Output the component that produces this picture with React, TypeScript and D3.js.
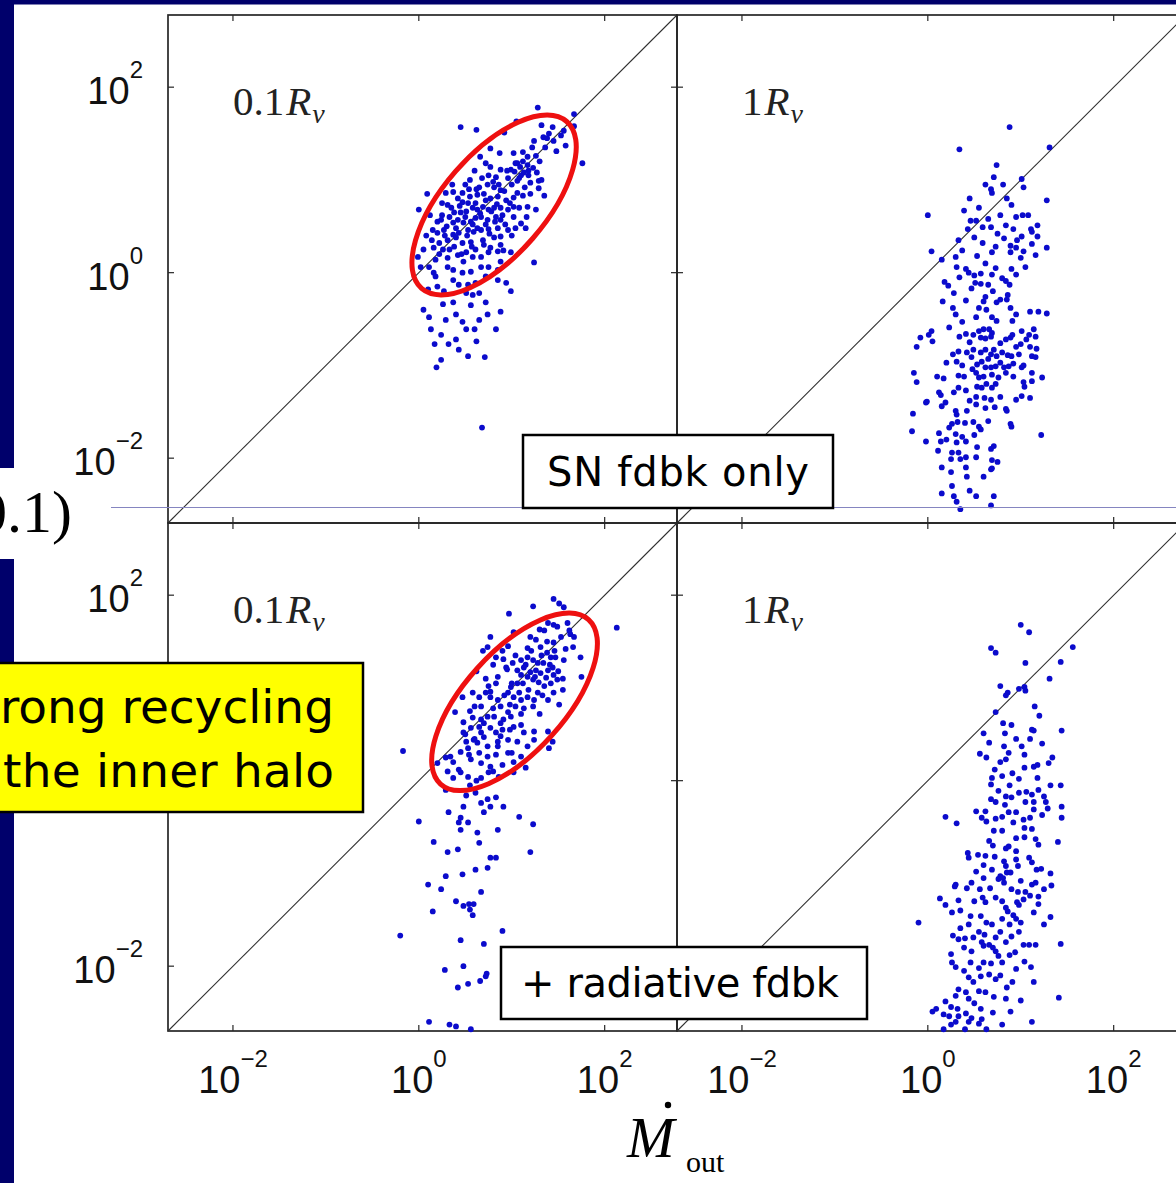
import React from "react";
import * as d3 from "d3";

// ---------- data (log10 values: [x, y, x, y, ...]) ----------
const DOMAIN: [number, number] = [0.002, 600];
const tickExponents = [-2, 0, 2];
const radiusLabels = ["0.1", "1"];
const feedbackLabels = ["SN fdbk only", "+ radiative fdbk"];
const calloutLines = ["rong recycling", "the inner halo"];
const sideLabel = "0.1)";

// top-left: SN feedback only, 0.1 Rv
const innerSN = [
  1.28,1.78, 1.67,1.71, 1.05,1.63, 0.45,1.57, 0.62,1.54, 1.32,1.59, 1.44,1.57, 1.56,1.53, 1.53,1.48, 1.67,1.58,
  1.34,1.46, 1.38,1.45, 1.24,1.42, 1.58,1.37, 1.48,1.31, 1.76,1.18, 0.92,1.51, 0.77,1.34, 0.87,1.29, 1.02,1.29,
  1.12,1.30, 1.17,1.25, 1.26,1.26, 1.06,1.18, 1.09,1.14, 1.17,1.16, 1.23,1.13, 0.99,1.11, 1.03,1.09, 1.10,1.05,
  1.13,1.08, 1.18,1.05, 0.66,1.25, 0.77,1.14, 0.88,1.11, 0.75,1.05, 0.83,1.03, 0.96,1.02, 1.06,0.99, 1.20,0.97,
  1.29,0.99, 1.29,0.91, 1.35,0.83, 0.74,0.95, 0.81,0.92, 0.88,0.89, 0.65,0.92, 0.63,0.84, 0.54,0.90, 0.47,0.86,
  0.37,0.87, 0.29,0.86, 0.09,0.85, 0.00,0.68, 0.47,0.76, 0.53,0.75, 0.61,0.75, 0.72,0.78, 0.77,0.80, 0.85,0.82,
  0.94,0.78, 1.02,0.81, 1.12,0.83, 1.02,0.71, 0.96,0.68, 0.88,0.70, 0.81,0.70, 0.75,0.68, 0.69,0.71, 0.63,0.68,
  0.58,0.70, 0.51,0.66, 0.45,0.65, 0.38,0.65, 0.31,0.73, 0.33,0.60, 0.24,0.57, 0.15,0.46, 0.20,0.43, 0.27,0.46,
  0.37,0.54, 0.42,0.57, 0.48,0.54, 0.56,0.55, 0.61,0.59, 0.67,0.60, 0.74,0.57, 0.83,0.60, 0.88,0.57, 1.02,0.60,
  1.17,0.71, 1.26,0.68, 1.16,0.60, 1.10,0.53, 1.04,0.48, 1.15,0.48, 0.96,0.46, 0.85,0.48, 0.75,0.47, 0.67,0.46,
  0.59,0.44, 0.53,0.46, 0.43,0.43, 0.37,0.41, 0.31,0.35, 0.22,0.32, 0.16,0.27, 0.26,0.25, 0.38,0.28, 0.47,0.32,
  0.56,0.33, 0.69,0.35, 0.81,0.38, 0.88,0.39, 0.77,0.27, 0.61,0.25, 0.51,0.22, 0.42,0.19, 0.31,0.16, 0.18,0.14,
  0.11,0.06, -0.01,0.17, 0.02,0.06, 0.16,0.00, 0.18,-0.04, 0.31,0.06, 0.37,0.03, 0.48,0.12, 0.58,0.17, 0.67,0.17,
  0.75,0.22, 0.85,0.23, 0.91,0.24, 0.99,0.22, 0.88,0.12, 0.75,0.06, 0.67,0.06, 0.56,0.01, 0.47,0.00, 0.37,-0.08,
  0.43,-0.13, 0.53,-0.13, 0.61,-0.11, 0.72,-0.04, 0.85,-0.08, 0.10,-0.18, 0.20,-0.15, 0.27,-0.20, 0.51,-0.22, 0.58,-0.24,
  0.65,-0.22, 1.24,0.11, 0.85,0.03, 0.11,-0.48, 0.29,-0.51, 0.40,-0.45, 0.51,-0.61, 0.65,-0.51, 0.74,-0.45, 0.24,-0.67,
  0.40,-0.72, 0.17,-0.77, 0.24,-0.94, 0.19,-1.02, 0.43,-0.83, 0.53,-0.90, 0.71,-0.91, 0.62,-0.74, 0.83,-0.61, 0.88,-0.42,
  0.37,-0.32, 0.56,-0.35, 0.72,-0.32, 0.26,-0.34, 0.13,-0.61, 0.05,-0.40, 0.99,-0.20, 0.94,-0.11, 0.68,-1.67, 0.32,-0.77,
  0.47,-0.53, 0.60,-0.61,
  0.20,0.55, 0.25,0.62, 0.30,0.50, 0.35,0.70, 0.40,0.48, 0.44,0.72, 0.50,0.60, 0.55,0.82, 0.58,0.52, 0.62,0.90,
  0.66,0.64, 0.70,0.85, 0.72,0.52, 0.78,0.66, 0.80,0.98, 0.84,0.74, 0.86,0.95, 0.90,0.62, 0.92,0.88, 0.95,1.10,
  0.98,0.75, 1.00,0.95, 1.04,1.18, 1.06,0.86, 1.08,1.02, 1.12,1.20, 1.14,0.92, 1.18,1.10, 1.22,1.35, 1.27,1.08,
  1.30,1.20, 1.36,1.35, 1.40,1.50, 1.45,1.42, 0.14,0.35, 0.22,0.20, 0.28,0.40, 0.33,0.25, 0.40,0.38, 0.46,0.20,
  0.52,0.40, 0.57,0.28, 0.63,0.48, 0.70,0.30, 0.76,0.42, 0.82,0.55, 0.88,0.30, 0.93,0.52, 0.55,1.00, 0.60,1.10,
  0.68,1.02, 0.72,1.18, 0.50,0.95, 0.42,0.80, 0.36,0.95, 0.25,0.75, 0.12,0.62, 0.08,0.40, 0.05,0.25, 1.00,0.40,
  1.08,0.70, 1.20,0.85, 1.32,1.00,
];

// top-right: SN feedback only, 1 Rv
const virialSN = [
  0.88,1.57, 0.34,1.33, 1.31,1.35, 0.74,1.16, 0.71,1.03, 0.81,0.95, 1.01,1.01, 1.03,0.92, 0.68,0.90, 0.69,0.86,
  0.85,0.80, 0.90,0.73, 1.28,0.78, 0.00,0.62, 0.39,0.67, 0.46,0.56, 0.52,0.56, 0.65,0.58, 0.59,0.49, 0.68,0.49,
  0.43,0.47, 0.84,0.51, 0.92,0.47, 1.02,0.62, 1.11,0.47, 1.12,0.44, 1.18,0.51, 1.18,0.39, 1.01,0.39, 0.96,0.35,
  0.82,0.37, 0.59,0.32, 0.33,0.35, 0.04,0.23, 0.15,0.14, 0.37,0.24, 0.53,0.18, 0.69,0.22, 0.73,0.28, 0.89,0.29,
  0.95,0.27, 0.89,0.22, 1.00,0.16, 1.03,0.23, 1.12,0.31, 1.16,0.19, 1.28,0.27, 0.30,0.17, 0.31,0.06, 0.41,0.04,
  0.44,0.00, 0.57,-0.01, 0.69,-0.02, 0.73,0.05, 0.90,0.04, 0.80,-0.06, 0.84,-0.09, 0.18,-0.10, 0.22,-0.14, 0.28,-0.22,
  0.34,-0.05, 0.51,-0.11, 0.57,-0.12, 0.65,-0.13, 0.88,-0.13, 0.86,-0.24, 0.62,-0.26, 0.16,-0.31, 0.27,-0.38, 0.41,-0.30,
  0.47,-0.17, 0.60,-0.31, 0.63,-0.40, 0.74,-0.32, 0.78,-0.29, 0.85,-0.29, 0.89,-0.38, 1.10,-0.42, 1.19,-0.42, 1.28,-0.44,
  0.30,-0.45, 0.37,-0.53, 0.52,-0.48, 0.69,-0.48, 0.74,-0.52, 0.91,-0.52, 0.23,-0.59, 0.04,-0.63, -0.08,-0.70, 0.01,-0.67,
  0.05,-0.74, -0.12,-0.80, 0.34,-0.69, 0.41,-0.66, 0.49,-0.67, 0.55,-0.63, 0.60,-0.61, 0.66,-0.61, 0.69,-0.65, 0.57,-0.70,
  0.62,-0.71, 0.68,-0.69, 0.84,-0.72, 0.89,-0.70, 0.91,-0.67, 1.01,-0.63, 1.09,-0.67, 1.14,-0.61, 1.16,-0.69, 1.06,-0.72,
  1.10,-0.80, 1.17,-0.82, 1.00,-0.77, 0.27,-0.88, 0.33,-0.85, 0.42,-0.86, 0.49,-0.83, 0.57,-0.86, 0.62,-0.83, 0.68,-0.88,
  0.71,-0.83, 0.74,-0.90, 0.80,-0.86, 0.86,-0.89, 0.90,-0.90, 0.98,-0.88, 1.12,-0.90, 1.16,-0.91, 0.20,-0.97, 0.31,-0.96,
  0.37,-1.00, 0.47,-0.91, 0.53,-0.99, 0.58,-0.96, 0.62,-1.02, 0.68,-1.02, 0.73,-1.01, 0.78,-0.97, 0.82,-1.02, 0.87,-1.01,
  0.92,-0.98, 1.01,-1.02, 1.03,-1.00, -0.15,-1.08, -0.12,-1.18, 0.10,-1.12, 0.17,-1.14, 0.33,-1.11, 0.39,-1.12, 0.52,-1.08,
  0.55,-1.13, 0.60,-1.12, 0.69,-1.10, 0.76,-1.13, 0.84,-1.08, 1.12,-1.08, 1.12,-1.17, 1.23,-1.13, 0.12,-1.29, 0.14,-1.32,
  0.28,-1.29, 0.33,-1.24, 0.41,-1.27, 0.53,-1.23, 0.58,-1.24, 0.63,-1.20, 0.69,-1.24, 0.73,-1.20, 1.04,-1.23, 1.03,-1.18,
  -0.02,-1.40, -0.01,-1.39, 0.15,-1.44, 0.19,-1.40, 0.52,-1.34, 0.52,-1.42, 0.61,-1.35, 0.68,-1.37, 0.78,-1.34, 0.95,-1.37,
  1.01,-1.33, 1.10,-1.35, -0.16,-1.52, 0.30,-1.49, 0.31,-1.53, 0.42,-1.49, 0.62,-1.46, 0.84,-1.47, 0.85,-1.49, -0.17,-1.71,
  0.23,-1.67, 0.26,-1.63, 0.32,-1.61, 0.49,-1.61, 0.55,-1.66, 0.57,-1.69, 0.89,-1.63, 0.90,-1.66, 1.22,-1.75, -0.02,-1.82,
  0.12,-1.73, 0.14,-1.82, 0.30,-1.74, 0.31,-1.83, 0.37,-1.77, 0.41,-1.82, 0.53,-1.88, 0.68,-1.90, 0.71,-1.87, 0.11,-1.92,
  0.25,-2.01, 0.26,-1.94, 0.33,-1.94, 0.35,-2.01, 0.41,-1.99, 0.52,-1.99, 0.69,-2.02, 0.75,-2.04, 0.15,-2.10, 0.25,-2.15,
  0.41,-2.10, 0.42,-2.20, 0.68,-2.12, 0.69,-2.11, 0.26,-2.30, 0.15,-2.38, 0.28,-2.41, 0.31,-2.47, 0.52,-2.41, 0.71,-2.41,
  0.68,-2.51,
  0.45,0.80, 0.55,0.70, 0.62,0.95, 0.78,0.62, 0.95,0.60, 1.08,0.62, 0.50,0.38, 0.75,0.42, 0.62,0.10, 0.50,-0.03,
  0.95,-0.02, 1.05,0.06, 0.70,-0.20, 0.55,-0.38, 0.95,-0.45, 0.45,-0.75, 0.78,-0.76, 0.95,-0.80, 0.65,-0.93, 0.48,-1.04,
  0.92,-1.12, 0.45,-1.38, 0.72,-1.45, 0.40,-1.62, 0.65,-1.60, 0.20,-1.80, 0.50,-1.75, 0.60,-2.20, 0.45,-2.35, 0.35,-2.55,
];

// bottom-left: + radiative feedback, 0.1 Rv
const innerRad = [
  1.45,1.96, 1.51,1.91, 1.56,1.87, 1.23,1.88, 0.97,1.80, 2.13,1.65, 1.39,1.70, 1.45,1.68, 1.49,1.66, 1.60,1.70,
  1.30,1.63, 1.26,1.52, 1.45,1.49, 1.63,1.58, 1.67,1.55, 1.66,1.44, 1.74,1.33, 1.75,1.12, 0.77,1.55, 0.69,1.40,
  0.74,1.44, 0.83,1.33, 0.96,1.45, 1.17,1.43, 1.31,1.44, 1.38,1.38, 1.42,1.33, 1.47,1.33, 1.56,1.30, 1.17,1.33,
  1.10,1.30, 1.23,1.30, 1.28,1.27, 1.34,1.27, 0.91,1.31, 1.01,1.27, 0.94,1.22, 1.06,1.19, 1.13,1.22, 1.20,1.17,
  1.26,1.19, 1.31,1.16, 1.39,1.19, 1.44,1.22, 1.45,1.14, 1.17,1.12, 1.10,1.14, 1.23,1.09, 1.29,1.06, 1.37,1.11,
  1.42,1.05, 1.49,1.09, 1.55,0.98, 1.06,1.05, 0.99,1.01, 0.83,1.05, 0.77,0.96, 0.72,0.95, 0.67,0.80, 0.77,0.90,
  0.85,0.87, 0.96,0.95, 1.02,0.90, 1.10,0.87, 1.17,0.90, 1.24,0.87, 1.33,0.92, 1.39,0.87, 1.51,0.82, 1.23,0.80,
  1.13,0.78, 1.04,0.80, 0.96,0.74, 0.88,0.80, 0.99,0.69, 0.91,0.66, 0.81,0.69, 0.74,0.69, 0.67,0.66, 0.58,0.68,
  0.48,0.63, 0.56,0.57, 0.65,0.58, 0.67,0.52, 0.77,0.57, 0.83,0.52, 0.90,0.55, 1.02,0.58, 1.10,0.60, 1.13,0.52,
  1.24,0.53, 1.24,0.44, 1.39,0.53, 1.44,0.42, 1.06,0.42, 1.17,0.37, 0.96,0.44, 0.85,0.42, 0.85,0.37, 0.74,0.37,
  0.63,0.41, 0.59,0.44, 0.51,0.42, 0.48,0.52, 0.39,0.74, 0.47,0.90, 0.53,0.35, 0.54,0.28, 0.65,0.30, 0.74,0.26,
  0.83,0.28, 0.96,0.30, 1.10,0.26, 1.02,0.20, 0.90,0.17, 0.77,0.15, 0.67,0.19, 0.56,0.23, 0.45,0.31, 0.34,0.26,
  0.37,0.20, 0.29,0.25, 0.43,0.12, 0.45,0.09, 0.37,0.03, 0.53,0.04, 0.67,0.03, 0.75,0.09, 0.86,0.04, 1.02,0.09,
  1.15,0.14, 1.40,0.35, -0.17,0.32, 0.31,0.10, 0.20,0.19, 0.29,-0.10, 0.51,-0.16, 0.61,-0.13, 0.67,-0.24, 0.74,-0.20,
  0.83,-0.18, 0.91,-0.28, 0.77,-0.28, 0.70,-0.34, 0.48,-0.28, 0.32,-0.34, 0.45,-0.40, 0.43,-0.45, 0.00,-0.44, 0.53,-0.45,
  0.85,-0.53, 1.08,-0.39, 1.23,-0.47, 0.63,-0.56, 0.45,-0.53, 0.16,-0.66, 0.65,-0.67, 0.42,-0.74, 1.20,-0.77, 0.31,-0.77,
  0.77,-0.83, 0.83,-0.83, 0.29,-1.03, 0.47,-1.01, 0.61,-0.96, 0.74,-0.94, 0.67,-1.20, 0.24,-1.17, 0.10,-1.12, 0.40,-1.30,
  0.48,-1.35, 0.54,-1.33, 0.59,-1.33, 0.55,-1.39, 0.58,-1.45, 0.15,-1.41, -0.20,-1.67, 0.45,-1.72, 0.70,-1.76, 0.90,-1.62,
  0.28,-2.04, 0.48,-2.00, 0.42,-2.23, 0.53,-2.19, 0.66,-2.16, 0.72,-2.11, 0.73,-2.08, 0.11,-2.60, 0.33,-2.63, 0.40,-2.65,
  0.56,-2.68,
  0.60,0.80, 0.65,0.90, 0.70,0.62, 0.75,1.02, 0.80,0.78, 0.85,1.12, 0.88,0.62, 0.92,0.92, 0.95,1.20, 0.98,0.82,
  1.00,1.05, 1.04,1.35, 1.08,0.95, 1.12,1.05, 1.15,1.25, 1.18,0.98, 1.21,1.40, 1.25,1.12, 1.28,0.95, 1.32,1.35,
  1.35,1.02, 1.38,1.50, 1.41,1.25, 1.46,1.40, 1.50,1.18, 1.53,1.55, 1.58,1.42, 1.62,1.62, 1.35,1.62, 1.20,1.55,
  1.02,1.60, 0.90,1.40, 0.80,1.25, 0.62,1.18, 0.55,0.75, 0.50,0.50, 0.60,0.45, 0.70,0.47, 0.88,0.48, 0.98,0.55,
  1.10,0.72, 1.30,0.72, 1.45,0.95, 1.55,1.10, 0.72,1.10, 0.58,0.95, 1.00,0.30, 0.80,0.10, 0.62,0.00, 0.55,-0.05,
];

// bottom-right: + radiative feedback, 1 Rv
const virialRad = [
  1.00,1.68, 1.09,1.60, 0.68,1.43, 1.56,1.44, 0.73,1.38, 1.05,1.27, 1.43,1.28, 1.31,1.10, 0.78,1.02, 0.84,0.92,
  0.86,0.95, 0.98,0.99, 1.04,1.01, 1.05,0.97, 0.73,0.74, 1.20,0.70, 0.81,0.62, 0.60,0.51, 0.83,0.51, 1.12,0.55,
  1.14,0.54, 1.44,0.54, 1.10,0.45, 1.23,0.40, 0.66,0.41, 0.82,0.37, 0.87,0.30, 1.01,0.37, 1.04,0.28, 0.56,0.29,
  0.63,0.25, 0.78,0.20, 0.84,0.23, 1.04,0.14, 1.14,0.15, 1.18,0.17, 1.30,0.19, 1.34,0.25, 0.69,0.03, 0.80,0.05,
  0.91,0.08, 1.18,0.03, 1.32,-0.05, 1.43,-0.05, 0.68,-0.04, 0.76,-0.11, 0.84,-0.17, 0.90,-0.18, 0.98,-0.13, 1.06,-0.12,
  1.12,-0.15, 1.19,-0.10, 1.25,-0.17, 1.27,-0.23, 0.73,-0.23, 0.68,-0.20, 0.83,-0.26, 1.05,-0.23, 1.14,-0.23, 0.62,-0.33,
  0.73,-0.41, 0.80,-0.39, 0.87,-0.34, 0.95,-0.34, 1.03,-0.42, 1.14,-0.31, 1.23,-0.37, 1.29,-0.30, 1.44,-0.28, 1.44,-0.40,
  0.52,-0.33, 0.58,-0.40, 0.63,-0.44, 0.19,-0.39, 0.31,-0.46, 0.71,-0.54, 0.80,-0.54, 0.92,-0.45, 1.04,-0.51, 1.12,-0.52,
  0.66,-0.65, 0.84,-0.73, 0.87,-0.71, 0.95,-0.76, 1.04,-0.61, 1.16,-0.63, 1.19,-0.69, 1.40,-0.66, 0.43,-0.78, 0.44,-0.83,
  0.54,-0.80, 0.62,-0.81, 0.72,-0.82, 0.82,-0.87, 0.84,-0.92, 0.95,-0.85, 0.97,-0.92, 1.09,-0.83, 1.12,-0.88, 1.17,-0.96,
  0.52,-0.98, 0.60,-0.91, 0.69,-0.96, 0.78,-1.03, 0.85,-0.99, 0.89,-0.99, 1.32,-1.00, 1.33,-1.13, 0.30,-1.12, 0.29,-1.14,
  0.42,-1.16, 0.47,-1.10, 0.56,-1.17, 0.67,-1.16, 0.76,-1.06, 0.81,-1.05, 0.82,-1.10, 0.90,-1.17, 0.97,-1.20, 1.05,-1.20,
  1.12,-1.12, 1.16,-1.10, 1.19,-1.25, 1.25,-1.17, 0.13,-1.27, 0.19,-1.34, 0.33,-1.29, 0.26,-1.42, 0.59,-1.26, 0.62,-1.31,
  0.73,-1.26, 0.80,-1.30, 0.84,-1.37, 0.86,-1.41, 0.96,-1.31, 0.98,-1.34, 1.03,-1.28, 1.10,-1.24, 1.19,-1.33, 1.14,-1.42,
  1.32,-1.47, -0.10,-1.53, 0.46,-1.46, 0.44,-1.55, 0.57,-1.46, 0.63,-1.53, 0.69,-1.55, 0.80,-1.49, 0.88,-1.55, 0.95,-1.49,
  1.00,-1.53, 0.35,-1.59, 0.27,-1.67, 0.33,-1.71, 0.49,-1.69, 0.55,-1.63, 0.61,-1.66, 0.73,-1.69, 0.78,-1.63, 0.90,-1.68,
  0.98,-1.63, 0.25,-1.87, 0.26,-1.96, 0.39,-1.80, 0.47,-1.84, 0.58,-1.74, 0.60,-1.78, 0.66,-1.77, 0.73,-1.84, 0.84,-1.74,
  0.76,-1.89, 1.03,-1.77, 1.09,-1.77, 1.16,-1.77, 1.43,-1.76, 0.94,-1.85, 1.04,-1.95, 0.30,-2.01, 0.39,-2.05, 0.46,-1.96,
  0.60,-1.96, 0.68,-1.97, 0.80,-1.96, 0.95,-2.03, 1.11,-2.01, 0.44,-2.12, 0.49,-2.17, 0.57,-2.11, 0.66,-2.09, 0.73,-2.14,
  0.85,-2.23, 0.91,-2.17, 1.14,-2.17, 0.33,-2.25, 0.30,-2.32, 0.41,-2.28, 0.44,-2.35, 0.55,-2.27, 0.62,-2.28, 0.71,-2.33,
  0.84,-2.35, 1.00,-2.37, 1.41,-2.34, 0.19,-2.38, 0.25,-2.44, 0.32,-2.46, 0.41,-2.51, 0.09,-2.46, 0.05,-2.49, 0.17,-2.52,
  0.23,-2.54, 0.33,-2.54, 0.44,-2.60, 0.57,-2.46, 0.58,-2.57, 0.47,-2.56, 0.89,-2.49, 1.12,-2.60, 0.80,-2.63, 0.25,-2.63,
  0.17,-2.68, 0.40,-2.68, 0.63,-2.68,
  0.90,0.60, 1.15,0.80, 0.95,0.45, 0.72,0.12, 0.98,0.02, 0.88,-0.05, 1.10,-0.40, 0.70,-0.70, 0.95,-0.62, 0.60,-1.05,
  1.00,-1.08, 0.50,-1.30, 0.92,-1.45, 0.40,-1.70, 0.70,-1.80, 0.88,-1.88, 0.55,-2.02, 0.78,-2.10, 0.50,-2.40, 0.70,-2.50,
  0.30,-2.60, 0.55,-2.62, 1.25,-1.55, 1.22,-0.95, 0.35,-1.40,
];

// red annotation ellipses (centre in log10 data units, semi-axes in decades)
const recyclingEllipses = [
  { panel: 0, cx: 0.81, cy: 0.73, a: 1.19, b: 0.55, angle: -49 },
  { panel: 2, cx: 1.03, cy: 0.85, a: 1.19, b: 0.54, angle: -48 },
];

// ---------- layout ----------
const W = 1176;
const H = 1183;
const PW = 509;
const PH = 508;
const NAVY = "#00006b";
const DOT = "#0b0bcc";
const SANS = "'Liberation Sans', Arial, sans-serif";
const SERIF = "'Liberation Serif', 'Times New Roman', serif";
const CASUAL = "'DejaVu Sans', sans-serif";
const CALLOUT = { x: -4, y: 663, w: 367, h: 149 };

const panels = [
  { x0: 168, y0: 15, data: innerSN, label: radiusLabels[0], row: 0, col: 0 },
  { x0: 677, y0: 15, data: virialSN, label: radiusLabels[1], row: 0, col: 1 },
  { x0: 168, y0: 523, data: innerRad, label: radiusLabels[0], row: 1, col: 0 },
  { x0: 677, y0: 523, data: virialRad, label: radiusLabels[1], row: 1, col: 1 },
];

const toPairs = (flat: number[]) => {
  const out: [number, number][] = [];
  for (let i = 0; i < flat.length; i += 2) out.push([Math.pow(10, flat[i]), Math.pow(10, flat[i + 1])]);
  return out;
};

const expText = (e: number) => (e < 0 ? "\u2212" + Math.abs(e) : String(e));
const underCallout = (py: number) => py > CALLOUT.y && py < CALLOUT.y + CALLOUT.h;

export default function App() {
  const scales = panels.map((p) => ({
    x: d3.scaleLog().domain(DOMAIN).range([p.x0, p.x0 + PW]),
    y: d3.scaleLog().domain(DOMAIN).range([p.y0 + PH, p.y0]),
  }));
  const decadePx = PW / (Math.log10(DOMAIN[1]) - Math.log10(DOMAIN[0]));
  const T = 6;

  return (
    <svg
      width={W}
      height={H}
      viewBox={`0 0 ${W} ${H}`}
      style={{ position: "absolute", left: 0, top: 0, background: "#fff" }}
    >
      <rect x={0} y={0} width={W} height={H} fill="#fff" />
      {/* slide frame */}
      <rect x={0} y={0} width={W} height={4.5} fill={NAVY} />
      <rect x={0} y={0} width={14} height={H} fill={NAVY} />
      <rect x={0} y={468} width={16} height={91} fill="#fff" />

      {panels.map((p, pi) => {
        const { x, y } = scales[pi];
        const pts = toPairs(p.data);
        return (
          <g key={pi}>
            <rect x={p.x0} y={p.y0} width={PW} height={PH} fill="none" stroke="#262626" strokeWidth={1.7} />
            <line
              x1={x(DOMAIN[0])}
              y1={y(DOMAIN[0])}
              x2={x(DOMAIN[1])}
              y2={y(DOMAIN[1])}
              stroke="#303030"
              strokeWidth={1.1}
            />
            {tickExponents.map((e) => {
              const t = Math.pow(10, e);
              return (
                <g key={e} stroke="#262626" strokeWidth={1.2}>
                  <line x1={x(t)} x2={x(t)} y1={p.y0} y2={p.y0 + T} />
                  <line x1={x(t)} x2={x(t)} y1={p.y0 + PH} y2={p.y0 + PH - T} />
                  <line x1={p.x0} x2={p.x0 + T} y1={y(t)} y2={y(t)} />
                  <line x1={p.x0 + PW} x2={p.x0 + PW - T} y1={y(t)} y2={y(t)} />
                </g>
              );
            })}
            {pts.map(([a, b], i) => (
              <circle key={i} cx={x(a)} cy={y(b)} r={2.9} fill={DOT} />
            ))}
            {/* panel radius label */}
            <text x={x(0.01)} y={p.y0 + 100} fontFamily={SERIF} fontSize={41} fill="#222">
              {p.label}
              <tspan fontStyle="italic" dx={2}>R</tspan>
              <tspan fontStyle="italic" fontSize={28} dy={8} dx={1}>v</tspan>
            </text>
            {/* y tick labels on the left column (the one under the callout is hidden) */}
            {p.col === 0 &&
              tickExponents
                .filter((e) => !underCallout(y(Math.pow(10, e))))
                .map((e) => (
                  <text
                    key={"y" + e}
                    x={143}
                    y={y(Math.pow(10, e)) + 17}
                    textAnchor="end"
                    fontFamily={SANS}
                    fontSize={38}
                    fill="#111"
                  >
                    10
                    <tspan fontSize={24} dy={-26}>{expText(e)}</tspan>
                  </text>
                ))}
            {/* x tick labels on the bottom row */}
            {p.row === 1 &&
              tickExponents.map((e) => (
                <text
                  key={"x" + e}
                  x={x(Math.pow(10, e))}
                  y={1093}
                  textAnchor="middle"
                  fontFamily={SANS}
                  fontSize={38}
                  fill="#111"
                >
                  10
                  <tspan fontSize={24} dy={-26}>{expText(e)}</tspan>
                </text>
              ))}
          </g>
        );
      })}

      {/* recycling ellipses */}
      {recyclingEllipses.map((el, i) => {
        const { x, y } = scales[el.panel];
        const cx = x(Math.pow(10, el.cx));
        const cy = y(Math.pow(10, el.cy));
        return (
          <ellipse
            key={i}
            cx={cx}
            cy={cy}
            rx={el.a * decadePx}
            ry={el.b * decadePx}
            transform={`rotate(${el.angle} ${cx} ${cy})`}
            fill="none"
            stroke="#ee1010"
            strokeWidth={5}
          />
        );
      })}

      {/* thin slide guide line */}
      <line x1={111} x2={W} y1={507.5} y2={507.5} stroke="#8585c0" strokeWidth={1} />

      {/* side label */}
      <text x={72} y={532} textAnchor="end" fontFamily={SERIF} fontSize={60} fill="#000">
        {sideLabel}
      </text>

      {/* feedback boxes */}
      <rect x={523} y={435} width={310} height={73} fill="#fff" stroke="#000" strokeWidth={2.5} />
      <text x={678} y={486} textAnchor="middle" fontFamily={CASUAL} fontSize={40} textLength={262} fill="#000">
        {feedbackLabels[0]}
      </text>
      <rect x={501} y={947} width={366} height={72} fill="#fff" stroke="#000" strokeWidth={2.5} />
      <text x={680} y={997} textAnchor="middle" fontFamily={CASUAL} fontSize={40} textLength={318} fill="#000">
        {feedbackLabels[1]}
      </text>

      {/* yellow callout */}
      <rect x={CALLOUT.x} y={CALLOUT.y} width={CALLOUT.w} height={CALLOUT.h} fill="#ffff00" stroke="#000" strokeWidth={2.5} />
      <text x={334} y={723} textAnchor="end" fontFamily={CASUAL} fontSize={47} textLength={334} fill="#000">
        {calloutLines[0]}
      </text>
      <text x={334} y={787} textAnchor="end" fontFamily={CASUAL} fontSize={47} textLength={331} fill="#000">
        {calloutLines[1]}
      </text>

      {/* x axis title: M-dot out */}
      <text x={627} y={1157} fontFamily={SERIF} fontStyle="italic" fontSize={57} fill="#000">
        M
      </text>
      <circle cx={668} cy={1105} r={3.2} fill="#000" />
      <text x={686} y={1172} fontFamily={SERIF} fontSize={30} fill="#000">
        out
      </text>
    </svg>
  );
}
